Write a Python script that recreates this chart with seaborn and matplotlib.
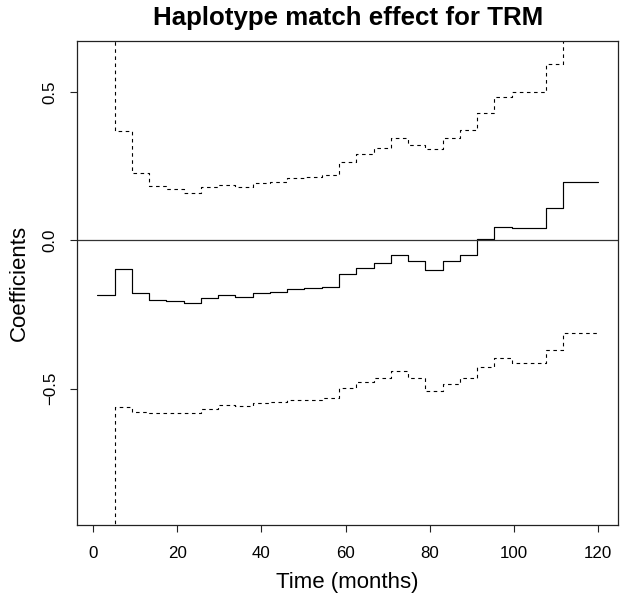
import matplotlib
matplotlib.use("Agg")
import matplotlib.pyplot as plt
import seaborn as sns
import pandas as pd

# ---- data ----
time = [1.0, 5.1, 9.21, 13.31, 17.41, 21.52, 25.62, 29.72, 33.83, 37.93,
        42.03, 46.14, 50.24, 54.34, 58.45, 62.55, 66.66, 70.76, 74.86, 78.97,
        83.07, 87.17, 91.28, 95.38, 99.48, 103.59, 107.69, 111.79, 115.9, 120.0]
coef = [-0.183, -0.098, -0.176, -0.200, -0.206, -0.211, -0.194, -0.184, -0.190, -0.179,
        -0.175, -0.164, -0.162, -0.156, -0.115, -0.092, -0.077, -0.049, -0.071, -0.100,
        -0.070, -0.049, 0.003, 0.044, 0.041, 0.041, 0.110, 0.197, 0.197, 0.197]
upper = [0.82, 0.367, 0.225, 0.184, 0.174, 0.158, 0.178, 0.187, 0.180, 0.193,
         0.196, 0.209, 0.214, 0.221, 0.262, 0.292, 0.310, 0.344, 0.321, 0.308,
         0.343, 0.371, 0.430, 0.483, 0.499, 0.499, 0.592, 0.708, 0.708, 0.708]
lower = [-1.18, -0.562, -0.579, -0.582, -0.582, -0.582, -0.567, -0.555, -0.558, -0.549,
         -0.546, -0.538, -0.539, -0.532, -0.496, -0.477, -0.464, -0.439, -0.463, -0.507,
         -0.483, -0.465, -0.426, -0.395, -0.415, -0.415, -0.368, -0.313, -0.313, -0.313]
xticks = [0, 20, 40, 60, 80, 100, 120]
yticks = [-0.5, 0.0, 0.5]
ytick_labels = ["\u22120.5", "0.0", "0.5"]
title = "Haplotype match effect for TRM"
xlabel = "Time (months)"
ylabel = "Coefficients"

df = pd.DataFrame({"time": time, "coef": coef, "upper": upper, "lower": lower})

sns.set_style("white")
plt.rcParams["font.family"] = ["Liberation Sans", "DejaVu Sans"]
plt.rcParams["text.color"] = "black"
plt.rcParams["axes.labelcolor"] = "black"
plt.rcParams["xtick.color"] = "black"
plt.rcParams["ytick.color"] = "black"

fig = plt.figure(figsize=(6.26, 6.06), dpi=100)
ax = fig.add_axes([77.3 / 626, 1 - 525.3 / 606, (618 - 77.3) / 626, (525.3 - 41.3) / 606])

sns.lineplot(data=df, x="time", y="coef", ax=ax, color="black", linewidth=0.85,
             drawstyle="steps-post", estimator=None, sort=False)
sns.lineplot(data=df, x="time", y="upper", ax=ax, color="black", linewidth=0.8,
             drawstyle="steps-post", estimator=None, sort=False, linestyle=(0, (3.2, 3.2)))
sns.lineplot(data=df, x="time", y="lower", ax=ax, color="black", linewidth=0.8,
             drawstyle="steps-post", estimator=None, sort=False, linestyle=(0, (3.2, 3.2)))
ax.axhline(0, color="#333333", linewidth=0.9)

ax.set_xlim(-3.76, 124.76)
ax.set_ylim(-0.960, 0.670)

for s in ax.spines.values():
    s.set_visible(True)
    s.set_color("#222222")
    s.set_linewidth(0.9)

ax.set_xticks(xticks)
ax.set_xticklabels([str(v) for v in xticks])
ax.set_yticks(yticks)
ax.set_yticklabels(ytick_labels, rotation=90, va="center")
ax.tick_params(axis="both", direction="out", length=5, width=0.8, color="#222222",
               labelcolor="black", labelsize=12.2, bottom=True, left=True)
ax.tick_params(axis="x", pad=10)
ax.tick_params(axis="y", pad=9)

ax.set_xlabel(xlabel, fontsize=16, color="black")
ax.set_ylabel(ylabel, fontsize=16, color="black")
ax.xaxis.set_label_coords(0.5, -0.119)
ax.xaxis.label.set_verticalalignment("center")
ax.yaxis.set_label_coords(-0.108, 0.5)
ax.yaxis.label.set_verticalalignment("center")

fig.text((77.3 + 618) / 2 / 626, 1 - 18 / 606, title, ha="center", va="center",
         fontsize=18.6, fontweight="bold", color="black")

fig.savefig("out.png", dpi=100, facecolor="white")
